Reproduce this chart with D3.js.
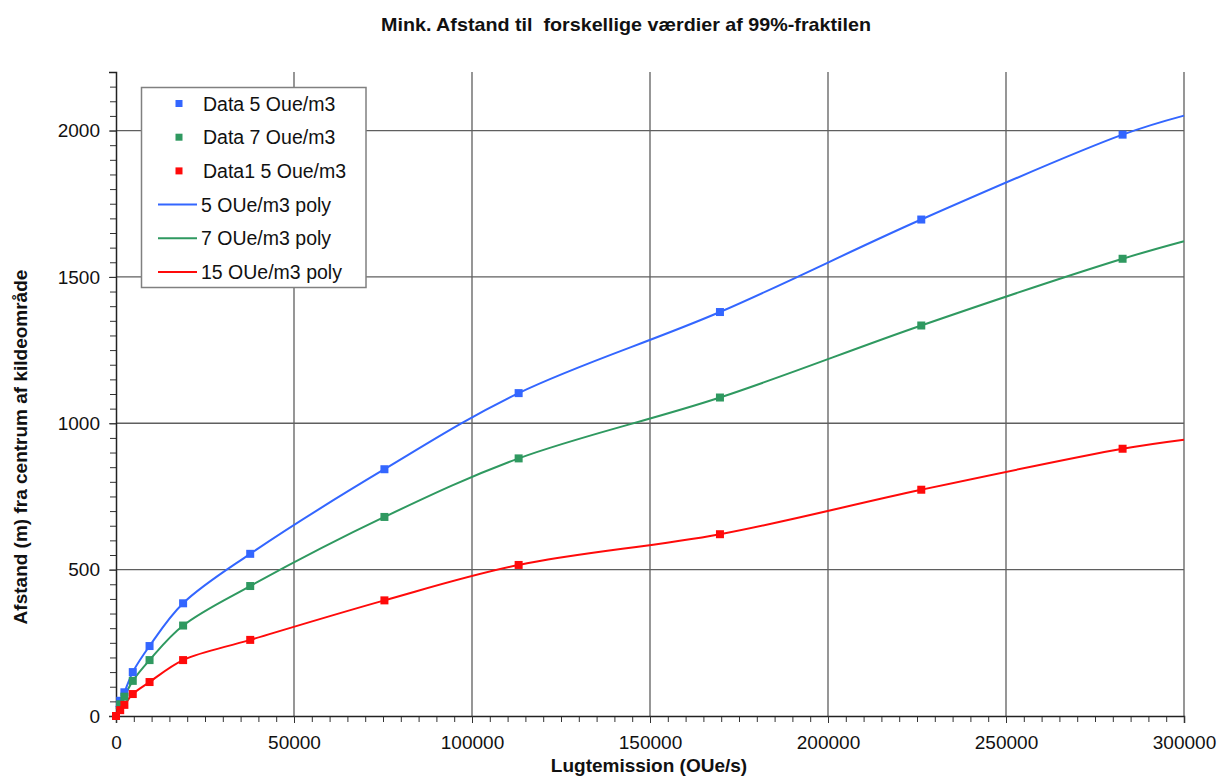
<!DOCTYPE html>
<html>
<head>
<meta charset="utf-8">
<script src="https://cdn.jsdelivr.net/npm/d3@7"></script>
<style>
  html, body { margin: 0; padding: 0; background: #fff; }
  svg { display: block; font-family: "Liberation Sans", Arial, sans-serif; }
</style>
</head>
<body>
<svg id="chart" width="1232" height="778"></svg>
<script>
// Odour emission (OUe/s) at which distances were calculated
const emission = [0, 1178, 2356, 4712, 9425, 18850, 37700, 75400, 113100, 169650, 226200, 282750];
// Distance (m) for 5, 7 and 15 OUe/m3 (99th percentile)
const data5  = [null, 52, 81, 150, 239, 385, 554, 843, 1103, 1380, 1696, 1986];
const data7  = [null, 40, 66, 120, 191, 309, 444, 680, 880, 1088, 1334, 1562];
const data15 = [0, 20, 38, 75, 116, 191, 260, 395, 516, 621, 773, 913];

// Fitted curves, extended to the end of the axis
const polyX  = [0, 1178, 2356, 4712, 9425, 18850, 37700, 75400, 113100, 169650, 226200, 282750, 300000];
const poly5  = [30, 52, 81, 150, 239, 385, 554, 843, 1103, 1380, 1696, 1986, 2051];
const poly7  = [25, 40, 66, 120, 191, 309, 444, 680, 880, 1088, 1334, 1562, 1622];
const poly15 = [0, 20, 38, 75, 116, 191, 260, 395, 516, 621, 773, 913, 944];

const xTicks = [0, 50000, 100000, 150000, 200000, 250000, 300000];
const yTicks = [0, 500, 1000, 1500, 2000];

const legendLabels = ["Data 5 Oue/m3", "Data 7 Oue/m3", "Data1 5 Oue/m3",
                      "5 OUe/m3 poly", "7 OUe/m3 poly", "15 OUe/m3 poly"];

const colors = { c5: "#3366ff", c7: "#2f9960", c15: "#ff0a0a" };

const svg = d3.select("#chart");
const plot = { left: 116, right: 1184, top: 72, bottom: 716 };

const x = d3.scaleLinear().domain([0, 300000]).range([plot.left, plot.right]);
const y = d3.scaleLinear().domain([0, 2200]).range([plot.bottom, plot.top]);

// Title
svg.append("text")
  .attr("x", 626).attr("y", 31)
  .attr("text-anchor", "middle")
  .attr("font-weight", "bold")
  .attr("font-size", 19)
  .attr("fill", "#111")
  .style("white-space", "pre")
  .attr("textLength", 490).attr("lengthAdjust", "spacingAndGlyphs")
  .text("Mink. Afstand til  forskellige værdier af 99%-fraktilen");

// Gridlines
const grid = svg.append("g").attr("stroke", "#5f5f5f").attr("stroke-width", 1.3);
grid.selectAll("line.v").data(xTicks.filter(d => d > 0)).join("line")
  .attr("x1", d => x(d)).attr("x2", d => x(d))
  .attr("y1", plot.top).attr("y2", plot.bottom);
grid.selectAll("line.h").data(yTicks.filter(d => d > 0)).join("line")
  .attr("x1", plot.left).attr("x2", plot.right)
  .attr("y1", d => y(d)).attr("y2", d => y(d));

// Minor ticks
const xMinor = d3.range(0, 300001, 5000);
const yMinor = d3.range(0, 2201, 50);
const xAxisMinor = d3.axisBottom(x).tickValues(xMinor).tickSize(6).tickFormat("");
const yAxisMinor = d3.axisLeft(y).tickValues(yMinor).tickSize(6).tickFormat("");
svg.append("g").attr("transform", `translate(0,${plot.bottom})`).call(xAxisMinor)
  .call(g => g.select(".domain").remove())
  .call(g => g.selectAll("line").attr("stroke", "#333"));
svg.append("g").attr("transform", `translate(${plot.left},0)`).call(yAxisMinor)
  .call(g => g.select(".domain").remove())
  .call(g => g.selectAll("line").attr("stroke", "#333"));

// Major axes with labels
const xAxis = d3.axisBottom(x).tickValues(xTicks).tickSize(7).tickPadding(13).tickFormat(d3.format("d"));
const yAxis = d3.axisLeft(y).tickValues(yTicks).tickSize(7).tickPadding(9).tickFormat(d3.format("d"));
svg.append("g").attr("transform", `translate(0,${plot.bottom})`).call(xAxis)
  .call(g => g.select(".domain").attr("stroke", "#222").attr("stroke-width", 1.5))
  .call(g => g.selectAll("line").attr("stroke", "#333"))
  .call(g => g.selectAll("text").attr("font-size", 19).attr("fill", "#111")
    .attr("font-family", "Liberation Sans, Arial, sans-serif"));
svg.append("g").attr("transform", `translate(${plot.left},0)`).call(yAxis)
  .call(g => g.select(".domain").attr("stroke", "#222").attr("stroke-width", 1.5))
  .call(g => g.selectAll("line").attr("stroke", "#333"))
  .call(g => g.selectAll("text").attr("font-size", 19).attr("fill", "#111")
    .attr("font-family", "Liberation Sans, Arial, sans-serif"));

// Axis titles
svg.append("text")
  .attr("x", 649).attr("y", 772)
  .attr("text-anchor", "middle")
  .attr("font-weight", "bold").attr("font-size", 19).attr("fill", "#111")
  .text("Lugtemission (OUe/s)");
svg.append("text")
  .attr("transform", "translate(27,447) rotate(-90)")
  .attr("text-anchor", "middle")
  .attr("font-weight", "bold").attr("font-size", 19).attr("fill", "#111")
  .text("Afstand (m) fra centrum af kildeområde");

// Fitted curves
const line = d3.line()
  .x(d => x(d[0])).y(d => y(d[1]))
  .curve(d3.curveCatmullRom.alpha(0.5));
const curves = [
  { vals: poly5, color: colors.c5 },
  { vals: poly7, color: colors.c7 },
  { vals: poly15, color: colors.c15 }
];
svg.append("g").selectAll("path").data(curves).join("path")
  .attr("fill", "none")
  .attr("stroke", d => d.color)
  .attr("stroke-width", 2)
  .attr("d", d => line(polyX.map((xv, i) => [xv, d.vals[i]])));

// Data markers
const series = [
  { vals: data5, color: colors.c5 },
  { vals: data7, color: colors.c7 },
  { vals: data15, color: colors.c15 }
];
const ms = 8;
series.forEach(s => {
  const pts = emission.map((xv, i) => [xv, s.vals[i]]).filter(p => p[1] !== null);
  svg.append("g").selectAll("rect").data(pts).join("rect")
    .attr("x", d => x(d[0]) - ms / 2).attr("y", d => y(d[1]) - ms / 2)
    .attr("width", ms).attr("height", ms)
    .attr("fill", s.color);
});

// Legend
const lg = svg.append("g");
lg.append("rect")
  .attr("x", 141.5).attr("y", 87.5).attr("width", 224.5).attr("height", 200)
  .attr("fill", "#fff").attr("stroke", "#808080").attr("stroke-width", 1.5);
const rowY = i => 103.5 + i * 33.7;
const legendColors = [colors.c5, colors.c7, colors.c15, colors.c5, colors.c7, colors.c15];
legendLabels.forEach((label, i) => {
  if (i < 3) {
    lg.append("rect")
      .attr("x", 179 - 3.5).attr("y", rowY(i) - 3.5)
      .attr("width", 7).attr("height", 7)
      .attr("fill", legendColors[i]);
  } else {
    lg.append("line")
      .attr("x1", 158).attr("x2", 197)
      .attr("y1", rowY(i)).attr("y2", rowY(i))
      .attr("stroke", legendColors[i]).attr("stroke-width", 2);
  }
  lg.append("text")
    .attr("x", i < 3 ? 203 : 201).attr("y", rowY(i))
    .attr("dy", "0.36em")
    .attr("font-size", 19.5).attr("fill", "#111")
    .text(label);
});
</script>
</body>
</html>
